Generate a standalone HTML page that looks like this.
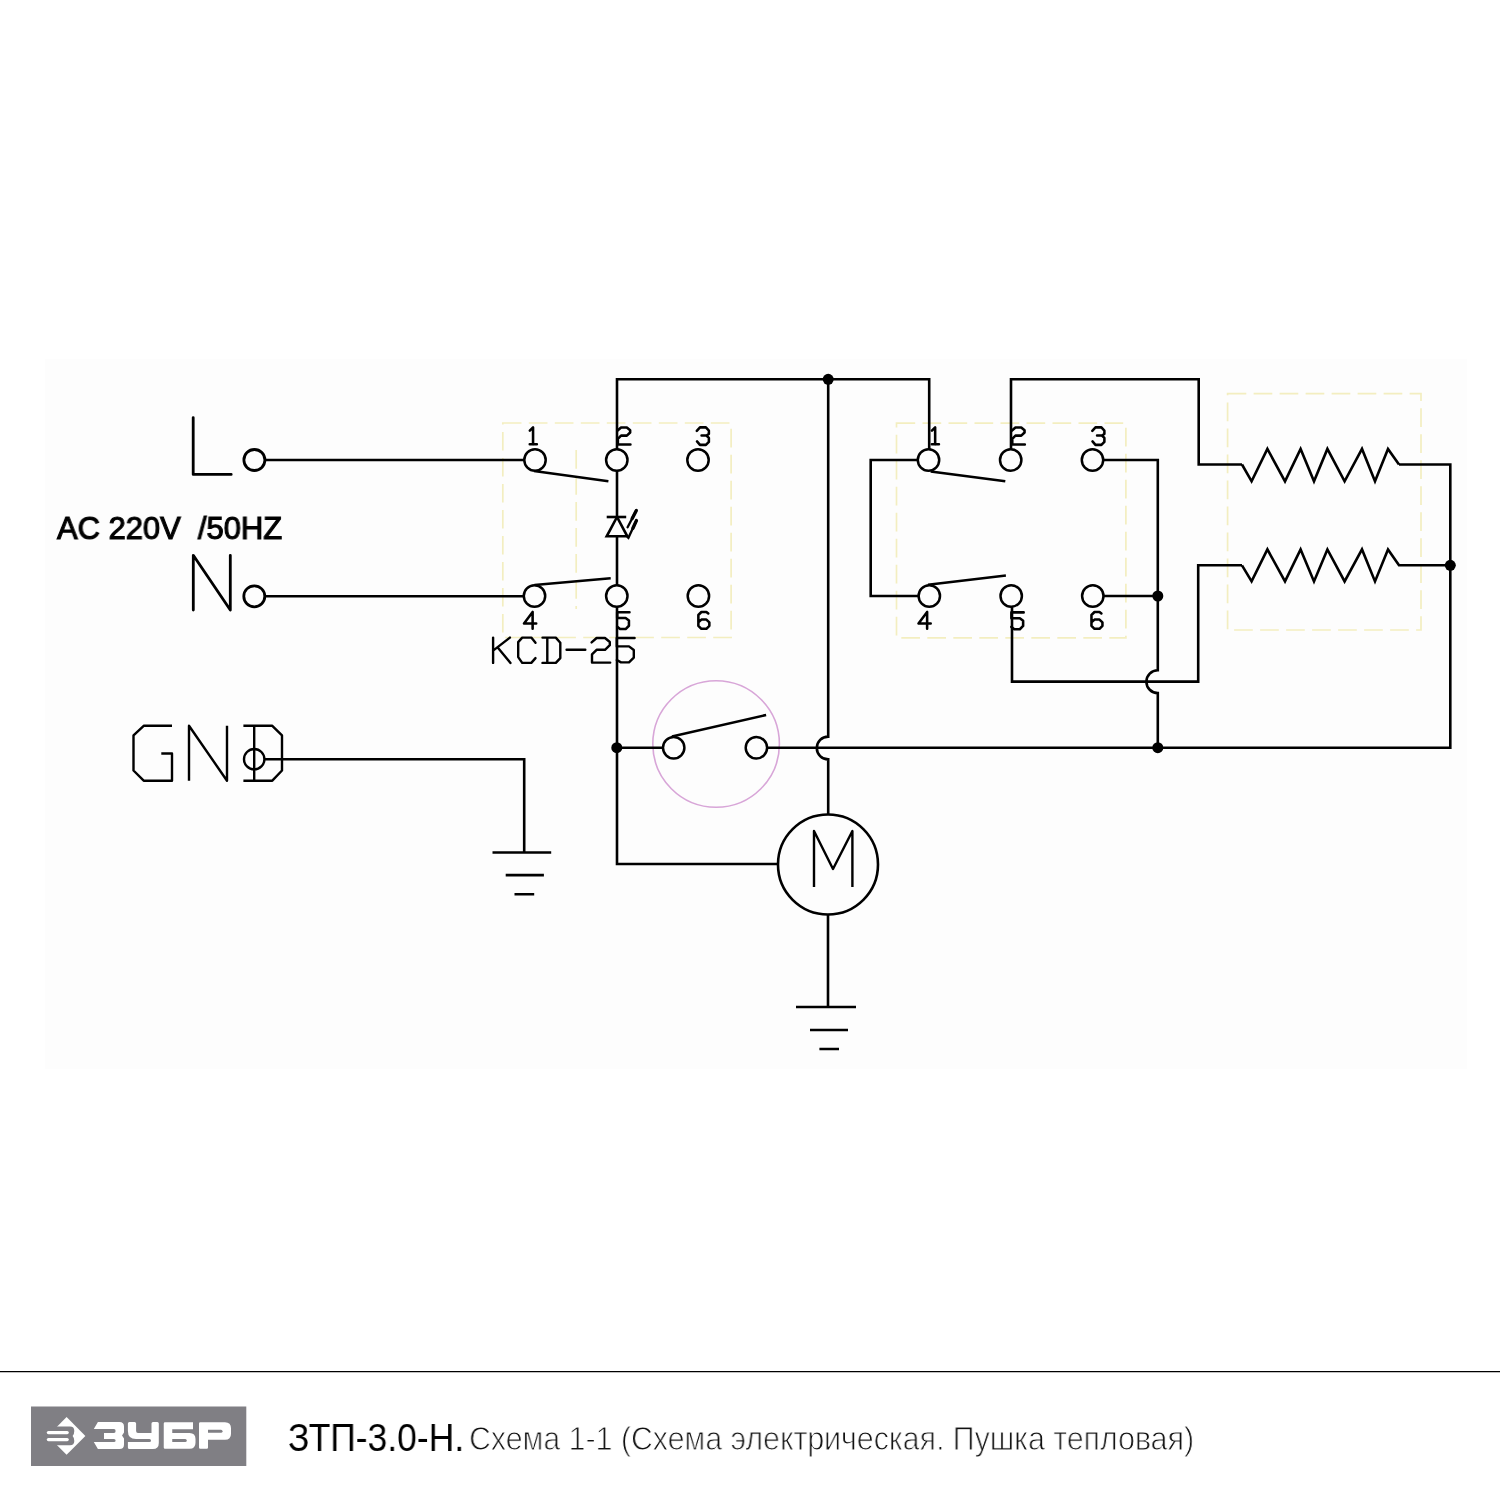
<!DOCTYPE html>
<html><head><meta charset="utf-8">
<style>
html,body{margin:0;padding:0;background:#fff;}
body{width:1500px;height:1500px;position:relative;overflow:hidden;font-family:"Liberation Sans",sans-serif;}
svg{position:absolute;left:0;top:0;}
.cap{position:absolute;white-space:nowrap;color:#111;will-change:transform;}
</style></head><body>
<svg width="1500" height="1500" viewBox="0 0 1500 1500">
<rect x="45" y="359" width="1422" height="710" fill="#fdfdfd"/>
<!-- dashed boxes -->
<g fill="none" stroke="#f3eec0" stroke-width="1.7" stroke-dasharray="18.7 7.3">
<rect x="502.8" y="423" width="228.3" height="214.5"/>
<line x1="576.2" y1="450" x2="576.2" y2="609"/>
<rect x="896.5" y="423.2" width="229.4" height="214.7"/>
<rect x="1227.6" y="393.6" width="193.4" height="236.4"/>
</g>
<!-- pink thermostat circle -->
<circle cx="716.1" cy="744" r="63.3" fill="none" stroke="#d8a6d8" stroke-width="1.6"/>
<g fill="none" stroke="#000" stroke-width="2.6" stroke-linejoin="miter">
<!-- L N -->
<path d="M193.2 417.6V474.4H231.2" stroke-linejoin="round" stroke-linecap="round" stroke-width="2.8"/>
<path d="M193.3 610V555.3L230.3 610V555.3" stroke-linejoin="round" stroke-linecap="round" stroke-width="2.8"/>
<circle cx="254.4" cy="460" r="10.5" stroke-width="2.8"/>
<circle cx="254.3" cy="596.3" r="10.5" stroke-width="2.8"/>
<path d="M265 460H525"/>
<path d="M265 596.2H524.5"/>
<!-- left switch circles -->
<circle cx="535" cy="460" r="10.7" stroke-width="2.5"/>
<circle cx="616.8" cy="460" r="10.7" stroke-width="2.5"/>
<circle cx="698" cy="460" r="10.7" stroke-width="2.5"/>
<circle cx="534.5" cy="596" r="10.7" stroke-width="2.5"/>
<circle cx="616.8" cy="596" r="10.7" stroke-width="2.5"/>
<circle cx="698.4" cy="596" r="10.7" stroke-width="2.5"/>
<path d="M534 471L608.4 481.3"/>
<path d="M534.5 585L610.7 578.3"/>
<!-- main vertical at 617 -->
<path d="M617 450V379.3H929.2V450"/>
<path d="M617 470V517"/>
<path d="M617 586V536.3"/>
<path d="M617 606V864H778"/>
<!-- diode -->
<path d="M606.7 517H626.2"/>
<path d="M617 517L606.7 536.3H627.3Z"/>
<!-- thermostat -->
<path d="M617 747.7H663.7"/>
<circle cx="673.7" cy="747.7" r="10.7" stroke-width="2.5"/>
<circle cx="756.4" cy="747.7" r="10.7" stroke-width="2.5"/>
<path d="M671.9 736.5L766.1 715"/>
<path d="M766.4 747.7H1450.3V464.5H1399"/>
<!-- vertical 828 with hop -->
<path d="M828.2 379.3V736.6A11.4 11.4 0 0 0 828.2 759.4V814.4"/>
<!-- motor -->
<circle cx="828" cy="864.5" r="50"/>
<path d="M828 915V1007"/>
<path d="M796 1007H856M810 1030H848M819.4 1049H839"/>
<!-- GND -->
<circle cx="254.2" cy="759.2" r="10.2" stroke-width="2.4"/>
<path d="M264.2 759.2H524.2V852.5"/>
<path d="M492.5 852.5H551.2M505.7 875.1H543.9M514.5 894.2H534.2"/>
<!-- right switch -->
<circle cx="928.5" cy="460" r="10.7" stroke-width="2.5"/>
<circle cx="1010.7" cy="460" r="10.7" stroke-width="2.5"/>
<circle cx="1092.5" cy="460" r="10.7" stroke-width="2.5"/>
<circle cx="929.3" cy="596" r="10.7" stroke-width="2.5"/>
<circle cx="1011.2" cy="596" r="10.7" stroke-width="2.5"/>
<circle cx="1092.8" cy="596" r="10.7" stroke-width="2.5"/>
<path d="M930.7 471.5L1005.3 481.3"/>
<path d="M928 584.8L1005.9 575.5"/>
<path d="M1011 450V379.3H1198.7V464.5H1242"/>
<path d="M918.5 460H870.7V596H919.3"/>
<path d="M1102.5 460H1157.8V670.3A11.4 11.4 0 0 0 1157.8 693.1V747.7"/>
<path d="M1102.8 596H1157.8"/>
<path d="M1012 606V681.6H1198.2V565.3H1242"/>
<!-- resistors -->
<path d="M1242 464.5L1251.6 481.3L1267.4 448.9L1285 481.3L1300.6 448.9L1314 481.3L1327.4 448.9L1344.6 481.3L1362 448.9L1375 481.3L1388 448.9L1399 464.5"/>
<path d="M1242 565.3L1251.6 581.4L1267.4 549.4L1285 581.4L1300.6 549.4L1314 581.4L1327.4 549.4L1344.6 581.4L1362 549.4L1375 581.4L1388 549.4L1399 565.3H1450.3"/>
</g>
<!-- dots -->
<g fill="#000">
<circle cx="828.2" cy="379.3" r="5.5"/>
<circle cx="616.8" cy="747.7" r="5.5"/>
<circle cx="1157.8" cy="596" r="5.5"/>
<circle cx="1157.8" cy="747.7" r="5.5"/>
<circle cx="1450.3" cy="565.3" r="5.5"/>
</g>
<!-- bottom rule -->
<line x1="0" y1="1371.6" x2="1500" y2="1371.6" stroke="#000" stroke-width="1.4"/>
<rect x="31" y="1406.5" width="215.3" height="59.5" fill="#807f84"/>
<g fill="none" stroke="#000" stroke-width="3.7" stroke-linejoin="round" stroke-linecap="round">
<path d="M0.6 4.8L5.3 0V24.6M0.5 24.4H10.8" transform="translate(529.4 427.4) scale(0.69)"/>
<path d="M0 4.4L5 0H13.4L18.2 4V7.2L13.4 11.8H5L0.4 16.4V24.6H18.6" transform="translate(617.6 427.5) scale(0.69)"/>
<path d="M0 4.9L4.6 0H13.2L17.5 4.6V9.5L13.9 11.8H6.9M13.9 11.8L17.5 15.2V21L13.2 25.3H4.6L0.3 20.3" transform="translate(696.8 427.4) scale(0.69)"/>
<path d="M12.5 0L0 16.8H17.7M12.5 0V24.4" transform="translate(524 612) scale(0.69)"/>
<path d="M17.8 0H0V8.4H12.2L17 12V19.6L12.2 24.4H4.2L0 21" transform="translate(617.2 612.2) scale(0.69)"/>
<path d="M15.8 2.2L13 0H5.8L1.4 4.3V20L5.8 24.4H13L17.3 20V15L13 11H5.8L1.4 15" transform="translate(697.4 612) scale(0.69)"/>
<path d="M0.6 4.8L5.3 0V24.6M0.5 24.4H10.8" transform="translate(931.5 427.4) scale(0.69)"/>
<path d="M0 4.4L5 0H13.4L18.2 4V7.2L13.4 11.8H5L0.4 16.4V24.6H18.6" transform="translate(1012 427.5) scale(0.69)"/>
<path d="M0 4.9L4.6 0H13.2L17.5 4.6V9.5L13.9 11.8H6.9M13.9 11.8L17.5 15.2V21L13.2 25.3H4.6L0.3 20.3" transform="translate(1092.3 427.4) scale(0.69)"/>
<path d="M12.5 0L0 16.8H17.7M12.5 0V24.4" transform="translate(918.5 612) scale(0.69)"/>
<path d="M17.8 0H0V8.4H12.2L17 12V19.6L12.2 24.4H4.2L0 21" transform="translate(1011.4 612.4) scale(0.69)"/>
<path d="M15.8 2.2L13 0H5.8L1.4 4.3V20L5.8 24.4H13L17.3 20V15L13 11H5.8L1.4 15" transform="translate(1090.5 612) scale(0.69)"/>
</g>
<g fill="none" stroke="#000" stroke-width="2.4" stroke-linejoin="round" stroke-linecap="round">
<path d="M493.1 637.6V662.9M509.9 637.6L493.1 650.6M497.7 647.6L510.5 662.9"/>
<path d="M535.5 642.7L531.3 637.6H522.2L518.2 642.1V657.1L522.2 662.9H531.3L535.5 658.1"/>
<path d="M542.5 637.6H555.8L560.3 642.7V658.1L555.8 662.9H542.5M547.3 637.6V662.9"/>
<path d="M566.6 649.7H585.3"/>
<path d="M591.6 642.4L596.6 638H605L609.8 642V645.2L605 649.8H596.6L592 654.4V662.6H610.2"/>
<path d="M634.6 638H616.8V646.4H629L633.8 650V657.6L629 662.4H621L616.8 660"/>
</g>
<g fill="none" stroke="#000" stroke-width="2.4" stroke-linejoin="round" stroke-linecap="butt">
<path d="M172 725.8H143.7L133.5 735.4V770.5L143.7 780.7H172V753.5H161.3"/>
<path d="M189 780.7V725.8L227 780.7V725.8"/>
<path d="M243.4 725.8H272.3L282 735.4V770.5L272.3 780.7H243.4M254.2 725.8V780.7"/>
<path d="M814 887V831L833 869L852.4 831V887"/>
</g>
<g fill="none" stroke="#000" stroke-linecap="round">
<path d="M627 536.6L628.4 537.8L636.8 519.8" stroke-width="2.3" stroke-linecap="butt"/>
<path d="M627.6 527.3L636.6 509.9" stroke-width="2.3"/>
<path d="M632.9 528.2L636.4 520.6M632.2 518.5L636.2 510.8" stroke-width="3.4"/>
</g>
<g fill="#fff">
<path d="M66.6 1417L85.4 1436L66.6 1454.8L47.8 1436Z"/>
<path fill="#807f84" d="M47.2 1426.6H70Q74.3 1426.6 74.3 1431Q74.3 1434.3 72.6 1436Q74.3 1437.7 74.3 1441Q74.3 1445.2 70 1445.2H47.2Z"/>
<rect x="46.8" y="1431" width="22" height="3.2" rx="1.6"/>
<rect x="46.8" y="1438" width="22" height="3.2" rx="1.6"/>
<path d="M97.9 1422H119.5Q124 1422 124 1426.5V1432.5L122 1435.5L124 1438.5V1444.5Q124 1449 119.5 1449H97.9L93.8 1442.1H114Q115.6 1442.1 115.6 1440.5Q115.6 1438.9 114 1438.9H104V1433H114Q115.6 1433 115.6 1431.05Q115.6 1429.1 114 1429.1H93.8Z"/>
<path d="M127.9 1423.5Q127.9 1422 129.4 1422H134.6Q136.1 1422 136.1 1423.5V1431Q136.1 1433 138 1433H151.5V1423.5Q151.5 1422 153 1422H157.3Q158.8 1422 158.8 1423.5V1443Q158.8 1449 152.8 1449H129.4Q127.9 1449 127.9 1447.5V1442H149.5Q151 1442 151 1440.5Q151 1439 149.5 1439H136Q127.9 1439 127.9 1431Z"/>
<path d="M163.75 1423.5Q163.75 1422.25 165 1422.25H193V1429.25H172.25V1433H189.5Q195.5 1433 195.5 1439V1442.75Q195.5 1448.75 189.5 1448.75H165Q163.75 1448.75 163.75 1447.5Z"/>
<path fill="#807f84" d="M172.25 1439H185.25Q186.75 1439 186.75 1440.5Q186.75 1442 185.25 1442H172.25Z"/>
<path d="M199 1423.5Q199 1422.25 200.25 1422.25H225Q231 1422.25 231 1428.25V1433.75Q231 1439.75 225 1439.75H208V1447.5Q208 1448.75 206.75 1448.75H200.25Q199 1448.75 199 1447.5Z"/>
<path fill="#807f84" d="M208 1429.75H221Q222.5 1429.75 222.5 1431.25Q222.5 1432.75 221 1432.75H208Z"/>
</g>
</svg>
<div class="cap" style="left:287.5px;top:1416px;font-size:39px;color:#000;transform:scaleX(0.909);transform-origin:0 0;">ЗТП-3.0-Н.</div>
<div class="cap" style="left:468.9px;top:1418.7px;font-size:34px;color:#111;-webkit-text-stroke:1px #fff;transform:scaleX(0.891);transform-origin:0 0;">Схема 1-1 (Схема электрическая. Пушка тепловая)</div>
<div class="cap" style="left:57.4px;top:510.2px;font-size:31.5px;font-weight:normal;color:#000;-webkit-text-stroke:1.1px #000;transform:scaleX(0.982);transform-origin:0 0;">AC 220V&nbsp;&nbsp;/50HZ</div>
</body></html>
